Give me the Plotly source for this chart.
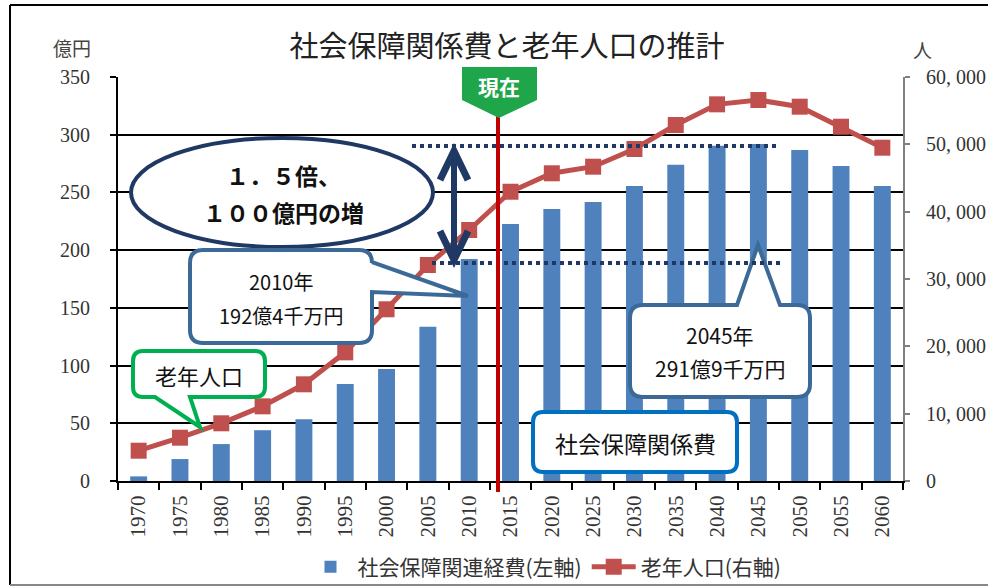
import plotly.graph_objects as go

# ---------------- data ----------------
years = ["1970", "1975", "1980", "1985", "1990", "1995", "2000", "2005", "2010",
         "2015", "2020", "2025", "2030", "2035", "2040", "2045", "2050", "2055", "2060"]
social_security_cost = [4, 19, 32, 44, 53.5, 84, 97, 133.7, 192.4,
                        222.6, 235.6, 241.7, 255.6, 274, 290.5, 291.9, 286.8, 272.9, 255.6]
elderly_population = [4500, 6430, 8570, 11090, 14360, 19110, 25500, 32080, 37280,
                      42960, 45700, 46680, 49310, 52870, 55940, 56580, 55590, 52620, 49500]
left_tickvals = [0, 50, 100, 150, 200, 250, 300, 350]
right_tickvals = [0, 10000, 20000, 30000, 40000, 50000, 60000]
right_ticktext = ["0", "10, 000", "20, 000", "30, 000", "40, 000", "50, 000", "60, 000"]

# ---------------- geometry helpers (pixel -> paper) ----------------
W, H = 988, 587
L, R, T, B = 118, 903, 77, 481


def px(x):
    return (x - L) / (R - L)


def py(y):
    return (B - y) / (B - T)


def P(x, y):
    return f"{px(x):.5f},{py(y):.5f}"


def callout(x0, y0, x1, y1, r, pointer=None):
    side = pointer[0] if pointer else None
    d = f"M{P(x0 + r, y0)}"
    if side == "top":
        _, a, b, (tx, ty) = pointer
        d += f" L{P(a, y0)} L{P(tx, ty)} L{P(b, y0)}"
    d += f" L{P(x1 - r, y0)} Q{P(x1, y0)} {P(x1, y0 + r)}"
    if side == "right":
        _, a, b, (tx, ty) = pointer
        d += f" L{P(x1, a)} L{P(tx, ty)} L{P(x1, b)}"
    d += f" L{P(x1, y1 - r)} Q{P(x1, y1)} {P(x1 - r, y1)}"
    if side == "bottom":
        _, a, b, (tx, ty) = pointer
        d += f" L{P(b, y1)} L{P(tx, ty)} L{P(a, y1)}"
    d += f" L{P(x0 + r, y1)} Q{P(x0, y1)} {P(x0, y1 - r)}"
    d += f" L{P(x0, y0 + r)} Q{P(x0, y0)} {P(x0 + r, y0)} Z"
    return d


JP = "Noto Sans CJK JP"
SERIF = "Liberation Serif"
NAVY = "#1F3864"

fig = go.Figure()
fig.add_trace(go.Bar(
    x=years, y=social_security_cost, name="社会保障関連経費(左軸)",
    marker=dict(color="#4F81BD", line=dict(width=0)), width=0.41,
))
fig.add_trace(go.Scatter(
    x=years, y=elderly_population, name="老年人口(右軸)", yaxis="y2",
    mode="lines+markers",
    line=dict(color="#C0504D", width=5),
    marker=dict(symbol="square", size=16, color="#C0504D"),
))

shapes = []
# outer frame
shapes.append(dict(type="line", xref="paper", yref="paper", x0=px(10), x1=px(995), y0=py(5), y1=py(5),
                   line=dict(color="black", width=2)))
shapes.append(dict(type="line", xref="paper", yref="paper", x0=px(10), x1=px(10), y0=py(5), y1=py(585),
                   line=dict(color="black", width=2)))
shapes.append(dict(type="line", xref="paper", yref="paper", x0=px(10), x1=px(995), y0=py(585), y1=py(585),
                   line=dict(color="#888888", width=2)))

# ellipse
shapes.append(dict(type="circle", xref="paper", yref="paper", x0=px(131), x1=px(433), y0=py(247), y1=py(138),
                   line=dict(color=NAVY, width=4), fillcolor="white", layer="above"))
# callouts
shapes.append(dict(type="path", xref="paper", yref="paper",
                   path=callout(190, 250, 372, 343, 13, ("right", 262, 292, (468, 296))),
                   line=dict(color="#3C6A98", width=4), fillcolor="white", layer="above"))
shapes.append(dict(type="path", xref="paper", yref="paper",
                   path=callout(133, 351, 265, 397, 10, ("bottom", 155, 190, (200, 427))),
                   line=dict(color="#00B050", width=4), fillcolor="white", layer="above"))
shapes.append(dict(type="path", xref="paper", yref="paper",
                   path=callout(630, 305, 810, 397, 13, ("top", 737, 780, (758, 245))),
                   line=dict(color="#3C6A98", width=4), fillcolor="white", layer="above"))
shapes.append(dict(type="path", xref="paper", yref="paper",
                   path=callout(533, 412, 737, 472, 10),
                   line=dict(color="#0070C0", width=4), fillcolor="white", layer="above"))
# dotted reference lines
shapes.append(dict(type="line", xref="paper", yref="paper", x0=px(412), x1=px(778), y0=py(146), y1=py(146),
                   line=dict(color=NAVY, width=4, dash="dot"), layer="above"))
shapes.append(dict(type="line", xref="paper", yref="paper", x0=px(432), x1=px(781), y0=py(263), y1=py(263),
                   line=dict(color=NAVY, width=4, dash="dot"), layer="above"))
# double arrow
shapes.append(dict(type="line", xref="paper", yref="paper", x0=px(454), x1=px(454), y0=py(152), y1=py(258),
                   line=dict(color=NAVY, width=6), layer="above"))
shapes.append(dict(type="path", xref="paper", yref="paper",
                   path=f"M{P(440, 180)} L{P(454, 151)} L{P(468, 180)}",
                   line=dict(color=NAVY, width=7), layer="above"))
shapes.append(dict(type="path", xref="paper", yref="paper",
                   path=f"M{P(440, 231)} L{P(454, 260)} L{P(468, 231)}",
                   line=dict(color=NAVY, width=7), layer="above"))
# "now" marker line and tag
shapes.append(dict(type="line", xref="paper", yref="paper", x0=px(498), x1=px(498), y0=py(116), y1=py(492),
                   line=dict(color="#C00000", width=4), layer="above"))
shapes.append(dict(type="path", xref="paper", yref="paper",
                   path=f"M{P(462, 67)} L{P(537, 67)} L{P(537, 100)} L{P(499, 118)} L{P(462, 100)} Z",
                   line=dict(width=0), fillcolor="#1FA64A", layer="above"))

annotations = []


def txt(x, y, text, size, color="#111111", family=JP, bold=False):
    if bold:
        text = f"<b>{text}</b>"
    annotations.append(dict(xref="paper", yref="paper", x=px(x), y=py(y), text=text, showarrow=False,
                            xanchor="center", yanchor="middle",
                            font=dict(family=family, size=size, color=color)))


txt(72, 48, "億円", 19, "#444444")
txt(922, 50, "人", 19, "#444444")
txt(499, 86, "現在", 21, "white", bold=True)
txt(283, 175, "１．５倍、", 23, "#111111", bold=True)
txt(283, 212, "１００億円の増", 23, "#111111", bold=True)
txt(281, 281, "2010年", 20)
txt(281, 315, "192億4千万円", 20)
txt(199, 375, "老年人口", 22)
txt(720, 335, "2045年", 21)
txt(720, 368, "291億9千万円", 21)
txt(635, 443, "社会保障関係費", 23)

fig.update_layout(
    width=W, height=H,
    margin=dict(l=L, r=W - R, t=T, b=H - B, autoexpand=False),
    paper_bgcolor="white", plot_bgcolor="white",
    title=dict(text="社会保障関係費と老年人口の推計", x=507 / W, xanchor="center",
               y=1 - 47 / H, yanchor="middle", font=dict(family=JP, size=29, color="#222222")),
    showlegend=True,
    legend=dict(orientation="h", x=px(545), xanchor="center", yref="container", y=1 - 567 / H,
                yanchor="middle",
                font=dict(family=JP, size=21, color="#333333"), bgcolor="rgba(0,0,0,0)",
                itemwidth=44, traceorder="normal"),
    xaxis=dict(type="category", range=[-0.5, 18.5], tickson="boundaries", ticks="outside",
               ticklen=7, tickwidth=2, tickcolor="black", showline=True, linecolor="black",
               linewidth=2, tickangle=-90, showgrid=False, ticklabelstandoff=4, automargin=False,
               tickfont=dict(family=SERIF, size=21, color="#333333")),
    yaxis=dict(range=[0, 350], tickvals=left_tickvals, showgrid=True, gridcolor="black", gridwidth=2,
               showline=True, linecolor="black", linewidth=2, ticks="outside", ticklen=6, tickwidth=2,
               tickcolor="black", zeroline=False, ticklabelstandoff=16, automargin=False,
               tickfont=dict(family=SERIF, size=20, color="#333333")),
    yaxis2=dict(range=[0, 60000], overlaying="y", side="right", tickvals=right_tickvals,
                ticktext=right_ticktext, showgrid=False, showline=True, linecolor="#808080",
                linewidth=2, ticks="outside", ticklen=5, tickwidth=2, tickcolor="#808080",
                zeroline=False, ticklabelstandoff=12, automargin=False,
                tickfont=dict(family=SERIF, size=20, color="#333333")),
    bargap=0.59,
    shapes=shapes,
    annotations=annotations,
)

fig.write_html("out.html", config={"displayModeBar": False},
               post_script="document.body.style.margin='0';document.body.style.overflow='hidden';")
